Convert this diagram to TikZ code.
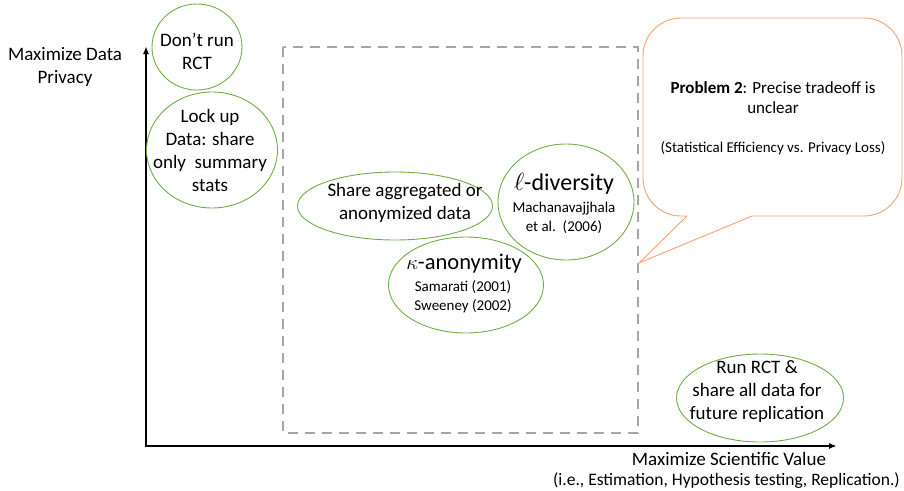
\documentclass[tikz,border=0pt]{standalone}
\usepackage{fontspec}
\setmainfont{Carlito}
\usetikzlibrary{shapes.geometric,arrows.meta}
\definecolor{ellgreen}{RGB}{112,173,71}
\definecolor{callorange}{RGB}{246,160,115}
\definecolor{dashgray}{RGB}{166,166,166}
\begin{document}
\begin{tikzpicture}[x=1pt,y=-1pt,
  greenell/.style={ellipse, draw=ellgreen, line width=0.9pt, inner sep=0pt},
  txt/.style={align=center, font=\fontsize{19}{23}\selectfont, inner sep=0pt},
  subtxt/.style={align=center, font=\fontsize{17.5}{22}\selectfont, inner sep=0pt},
  bigtxt/.style={align=center, font=\fontsize{24}{27}\selectfont, inner sep=0pt},
  smalltxt/.style={align=center, font=\fontsize{15}{19}\selectfont, inner sep=0pt},
  calltxt/.style={align=center, font=\fontsize{17}{20}\selectfont, inner sep=0pt},
  noteTxt/.style={align=center, font=\fontsize{15}{18}\selectfont, inner sep=0pt},
  axis/.style={line width=1.6pt, {Latex[length=8pt,width=6pt]}-{Latex[length=8pt,width=6pt]}},
  dashbox/.style={draw=dashgray, line width=2.6pt, dash pattern=on 10pt off 7pt},
  callout/.style={draw=callorange, line width=0.9pt}
]
\useasboundingbox (0,0) rectangle (904,490);

% axes
\coordinate (O) at (146,446);
\coordinate (ytop) at (146,46);
\coordinate (xend) at (837,446);
\draw[axis] (ytop) -- (O) -- (xend);

\node[txt] (ylab) at (65,66.5) {Maximize Data\\Privacy};
\node[txt] (xlab) at (729,459) {Maximize Scientific Value};
\node[subtxt, anchor=east] (xsub) at (900,481) {(i.e., Estimation, Hypothesis testing, Replication.)};

% dashed region
\coordinate (dbTL) at (283,47);
\coordinate (dbBR) at (638,433);
\draw[dashbox] (dbTL) rectangle (dbBR);
\coordinate (tip) at (639,263);

% callout
\draw[callout] (687,216) -- (tip) -- (752,216)
  [rounded corners=38pt] -- (902,216) -- (902,18) -- (643,18) -- (643,216)
  [sharp corners] -- (687,216);
\node[calltxt] (prob) at (773,98) {\textbf{Problem 2}: Precise tradeoff is\\unclear};
\node[noteTxt] (note) at (773,148) {(Statistical Efficiency vs. Privacy Loss)};

% ellipses
\node[greenell, minimum width=90pt, minimum height=86pt] (dont) at (197,47) {};
\node[txt] (dontT) at (197,51) {Don’t run\\RCT};

\node[greenell, minimum width=131pt, minimum height=116pt] (lock) at (212,150) {};
\node[txt] (lockT) at (210,150) {Lock up\\Data: share\\only\ \ summary\\stats};

\node[greenell, minimum width=195pt, minimum height=68pt] (share) at (395,206) {};
\node[txt] (shareT) at (405,203) {Share aggregated or\\anonymized data};

\node[greenell, minimum width=136pt, minimum height=116pt] (ldiv) at (566,202) {};
\node[bigtxt] (ldivT) at (564,184) {$\ell$-diversity};
\node[smalltxt] (ldivS) at (564,217.5) {Machanavajjhala\\et al.\ \ (2006)};

\node[greenell, minimum width=155pt, minimum height=96pt] (kano) at (466,285) {};
\node[bigtxt, font=\fontsize{22.5}{26}\selectfont] (kanoT) at (464,264) {$\kappa$-anonymity};
\node[smalltxt] (kanoS) at (463,297) {Samarati (2001)\\Sweeney (2002)};

\node[greenell, minimum width=167pt, minimum height=88pt] (run) at (760,398) {};
\node[txt] (runT) at (757,392) {Run RCT \&\\share all data for\\future replication};
\end{tikzpicture}
\end{document}
